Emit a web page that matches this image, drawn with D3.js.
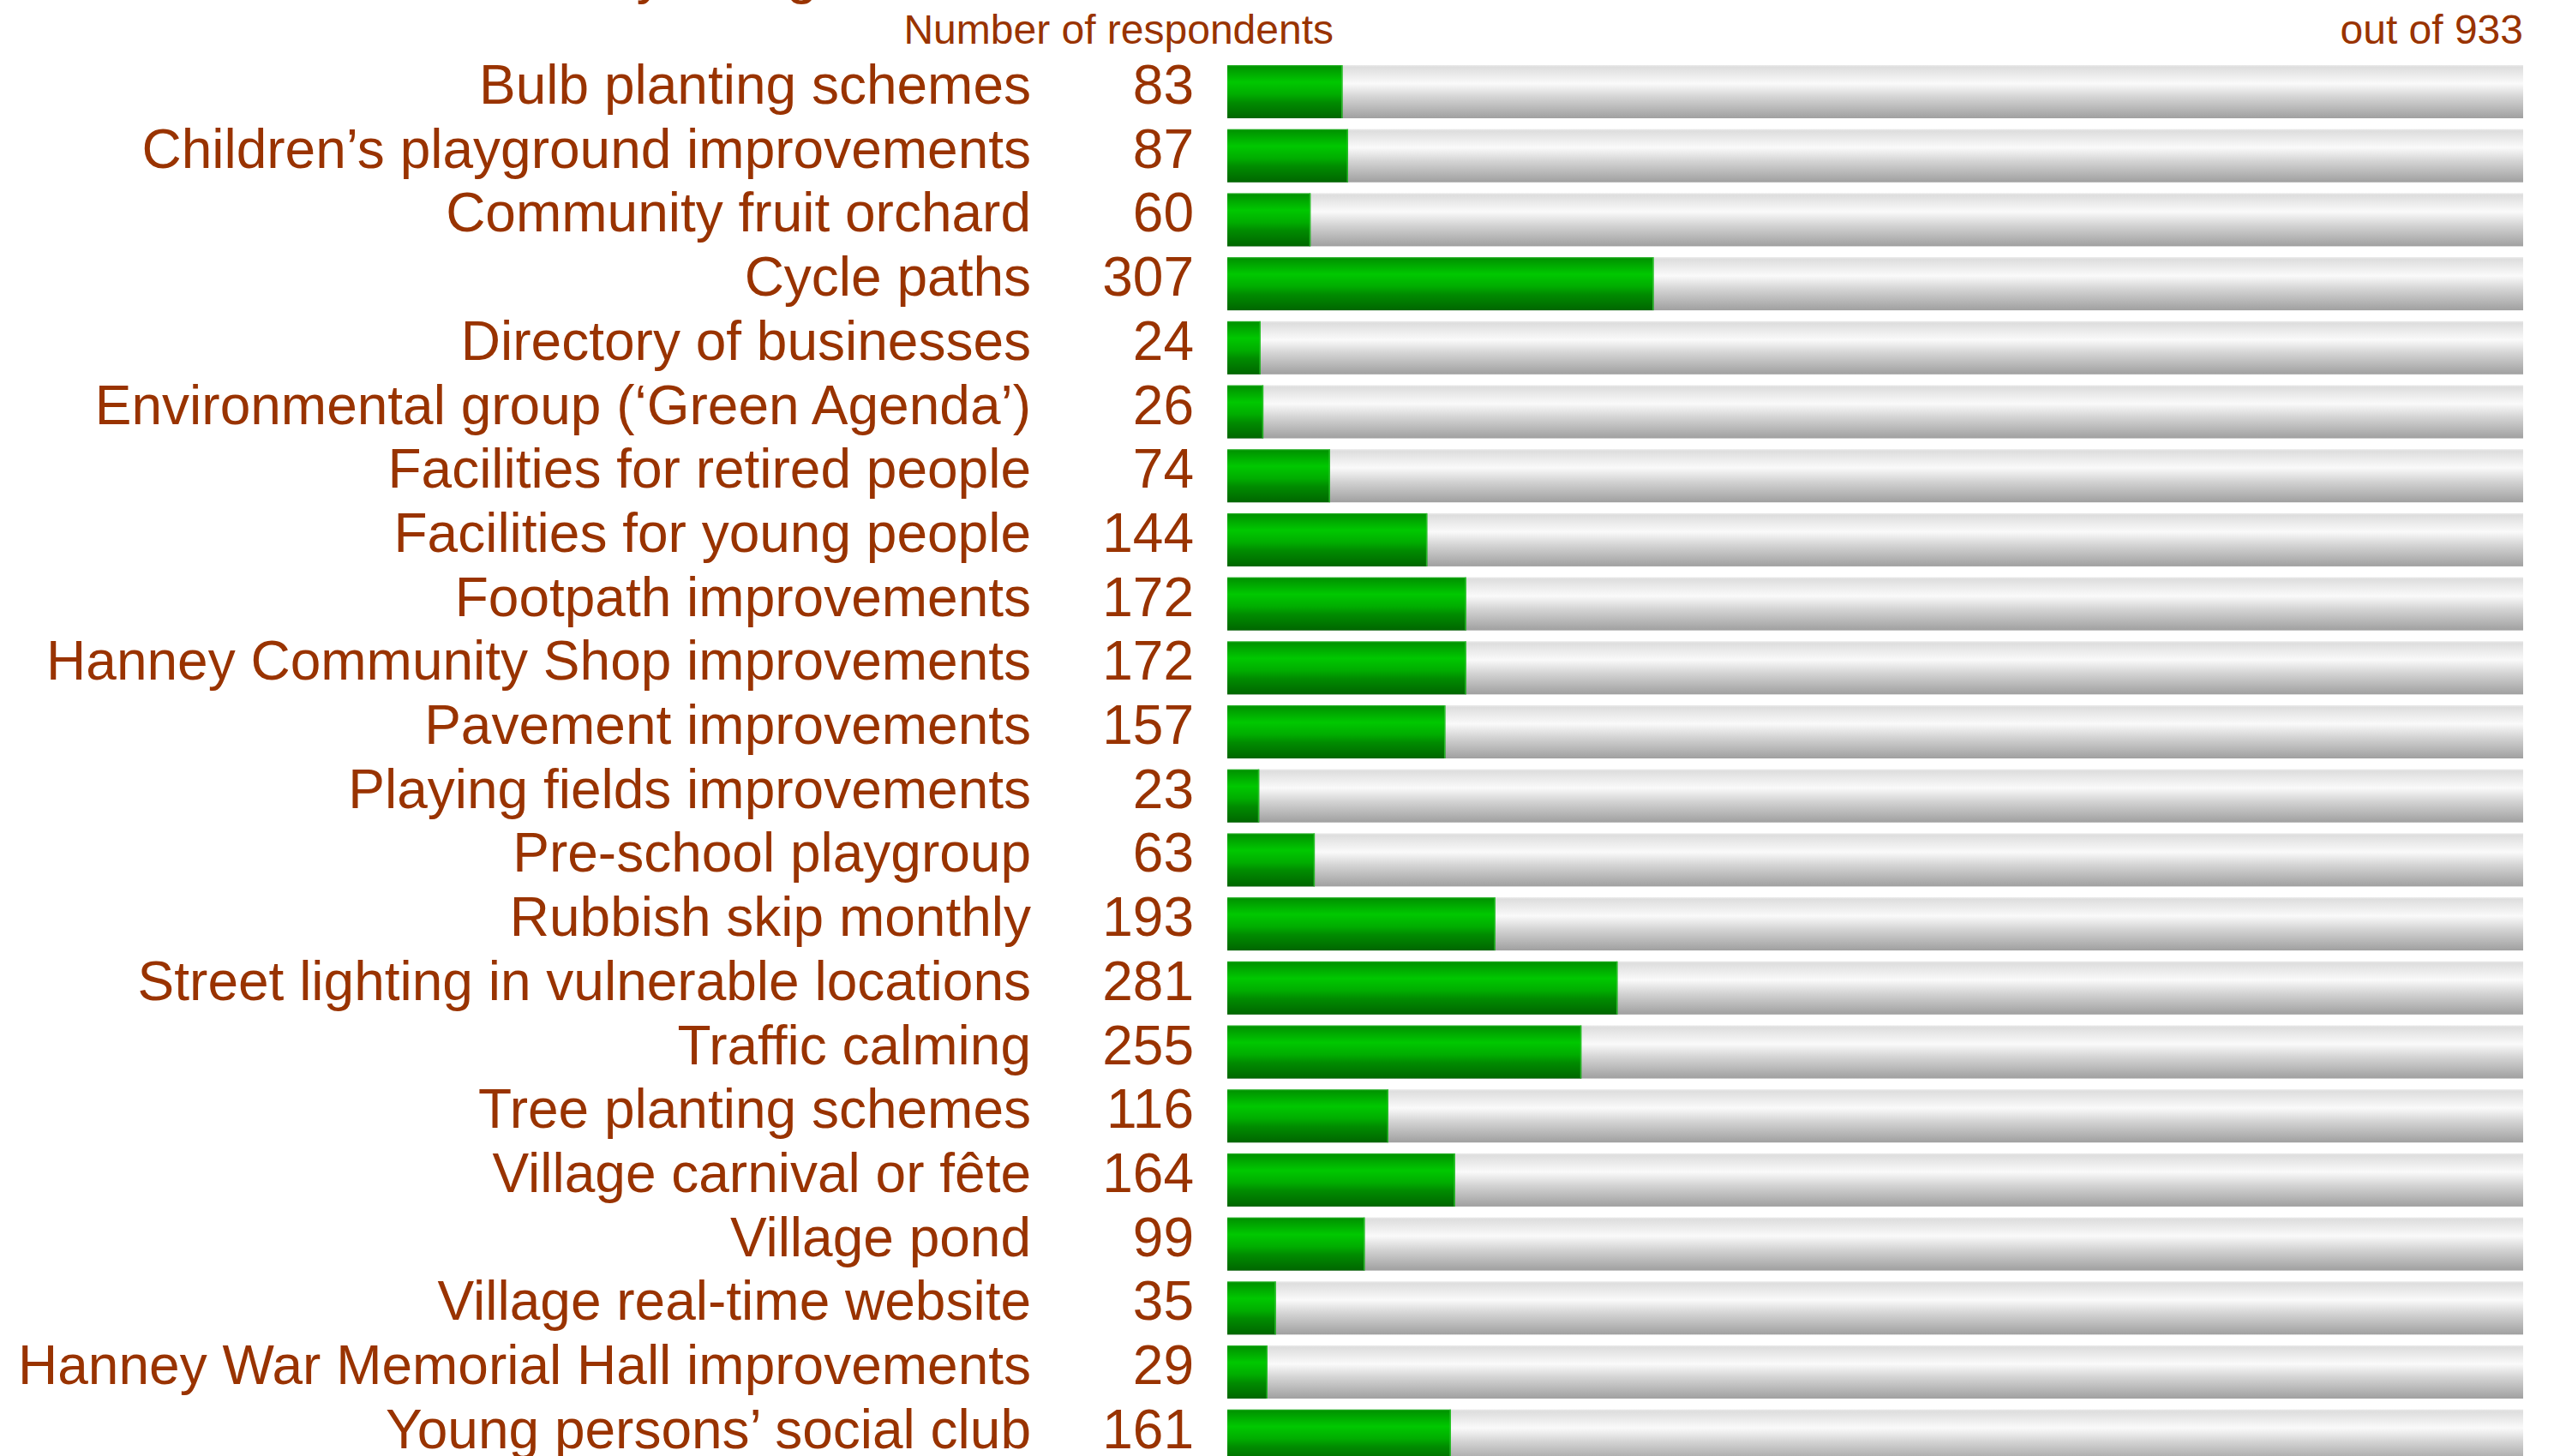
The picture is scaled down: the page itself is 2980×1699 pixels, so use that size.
<!DOCTYPE html>
<html>
<head>
<meta charset="utf-8">
<script src="https://cdn.jsdelivr.net/npm/d3@7"></script>
<style>
  html, body { margin: 0; padding: 0; background: #ffffff; overflow: hidden; }
  svg { display: block; font-family: "Liberation Sans", Arial, Helvetica, sans-serif; }
</style>
</head>
<body>
<svg id="chart" width="2980" height="1699"></svg>
<script>
// Projects and how many respondents chose each
const projects = [
  "Bulb planting schemes",
  "Children\u2019s playground improvements",
  "Community fruit orchard",
  "Cycle paths",
  "Directory of businesses",
  "Environmental group (\u2018Green Agenda\u2019)",
  "Facilities for retired people",
  "Facilities for young people",
  "Footpath improvements",
  "Hanney Community Shop improvements",
  "Pavement improvements",
  "Playing fields improvements",
  "Pre-school playgroup",
  "Rubbish skip monthly",
  "Street lighting in vulnerable locations",
  "Traffic calming",
  "Tree planting schemes",
  "Village carnival or f\u00eate",
  "Village pond",
  "Village real-time website",
  "Hanney War Memorial Hall improvements",
  "Young persons\u2019 social club"
];
const respondents = [83, 87, 60, 307, 24, 26, 74, 144, 172, 172, 157, 23, 63, 193, 281, 255, 116, 164, 99, 35, 29, 161];
const totalRespondents = 933;
const titleText = "Hanney Village";
const countHeading = "Number of respondents";
const totalHeading = "out of " + totalRespondents;

const textColor = "#993300";
const svg = d3.select("#chart");

const x = d3.scaleLinear().domain([0, totalRespondents]).range([1432, 2944]);
const y = d3.scaleBand().domain(projects).range([76, 76 + 21 * 74.7 + 62])
  .paddingInner(12.7 / 74.7).paddingOuter(0);

// Gradients for the track and the filled part
const defs = svg.append("defs");
const grey = defs.append("linearGradient").attr("id", "trackGrad")
  .attr("x1", 0).attr("y1", 0).attr("x2", 0).attr("y2", 1);
[[0, "#e9e9e9"], [0.04, "#dedede"], [0.35, "#fafafa"], [0.6, "#d4d4d4"], [1, "#a0a0a0"]]
  .forEach(([o, c]) => grey.append("stop").attr("offset", o).attr("stop-color", c));
const green = defs.append("linearGradient").attr("id", "fillGrad")
  .attr("x1", 0).attr("y1", 0).attr("x2", 0).attr("y2", 1);
[[0, "#2fb82f"], [0.03, "#009400"], [0.32, "#00c800"], [0.55, "#00ad00"], [0.7, "#008c00"], [1, "#006600"]]
  .forEach(([o, c]) => green.append("stop").attr("offset", o).attr("stop-color", c));

// Title (sits above the visible area)
svg.append("text")
  .attr("x", 548).attr("y", -9)
  .attr("font-size", 66).attr("fill", textColor)
  .text(titleText);

// Column headings
svg.append("text")
  .attr("x", 1556).attr("y", 51).attr("text-anchor", "end")
  .attr("font-size", 48).attr("fill", textColor)
  .text(countHeading);
svg.append("text")
  .attr("x", 2944).attr("y", 51).attr("text-anchor", "end")
  .attr("font-size", 48).attr("fill", textColor)
  .text(totalHeading);

const rows = svg.append("g").selectAll("g")
  .data(projects.map((p, i) => ({ project: p, value: respondents[i] })))
  .join("g");

// Full-length track
rows.append("rect")
  .attr("x", x(0)).attr("y", d => y(d.project))
  .attr("width", x(totalRespondents) - x(0)).attr("height", y.bandwidth())
  .attr("fill", "url(#trackGrad)");

// Filled part for the respondent count
rows.append("rect")
  .attr("x", x(0)).attr("y", d => y(d.project))
  .attr("width", d => x(d.value) - x(0)).attr("height", y.bandwidth())
  .attr("fill", "url(#fillGrad)");
rows.append("rect")
  .attr("x", d => x(d.value) - 1.5).attr("y", d => y(d.project))
  .attr("width", 1.5).attr("height", y.bandwidth())
  .attr("fill", "#33c433").attr("opacity", 0.8);

// Project names
rows.append("text")
  .attr("x", 1203).attr("y", d => y(d.project) + 45)
  .attr("text-anchor", "end").attr("font-size", 64).attr("fill", textColor)
  .text(d => d.project);

// Counts
rows.append("text")
  .attr("x", 1393).attr("y", d => y(d.project) + 45)
  .attr("text-anchor", "end").attr("font-size", 64).attr("fill", textColor)
  .text(d => d.value);
</script>
</body>
</html>
